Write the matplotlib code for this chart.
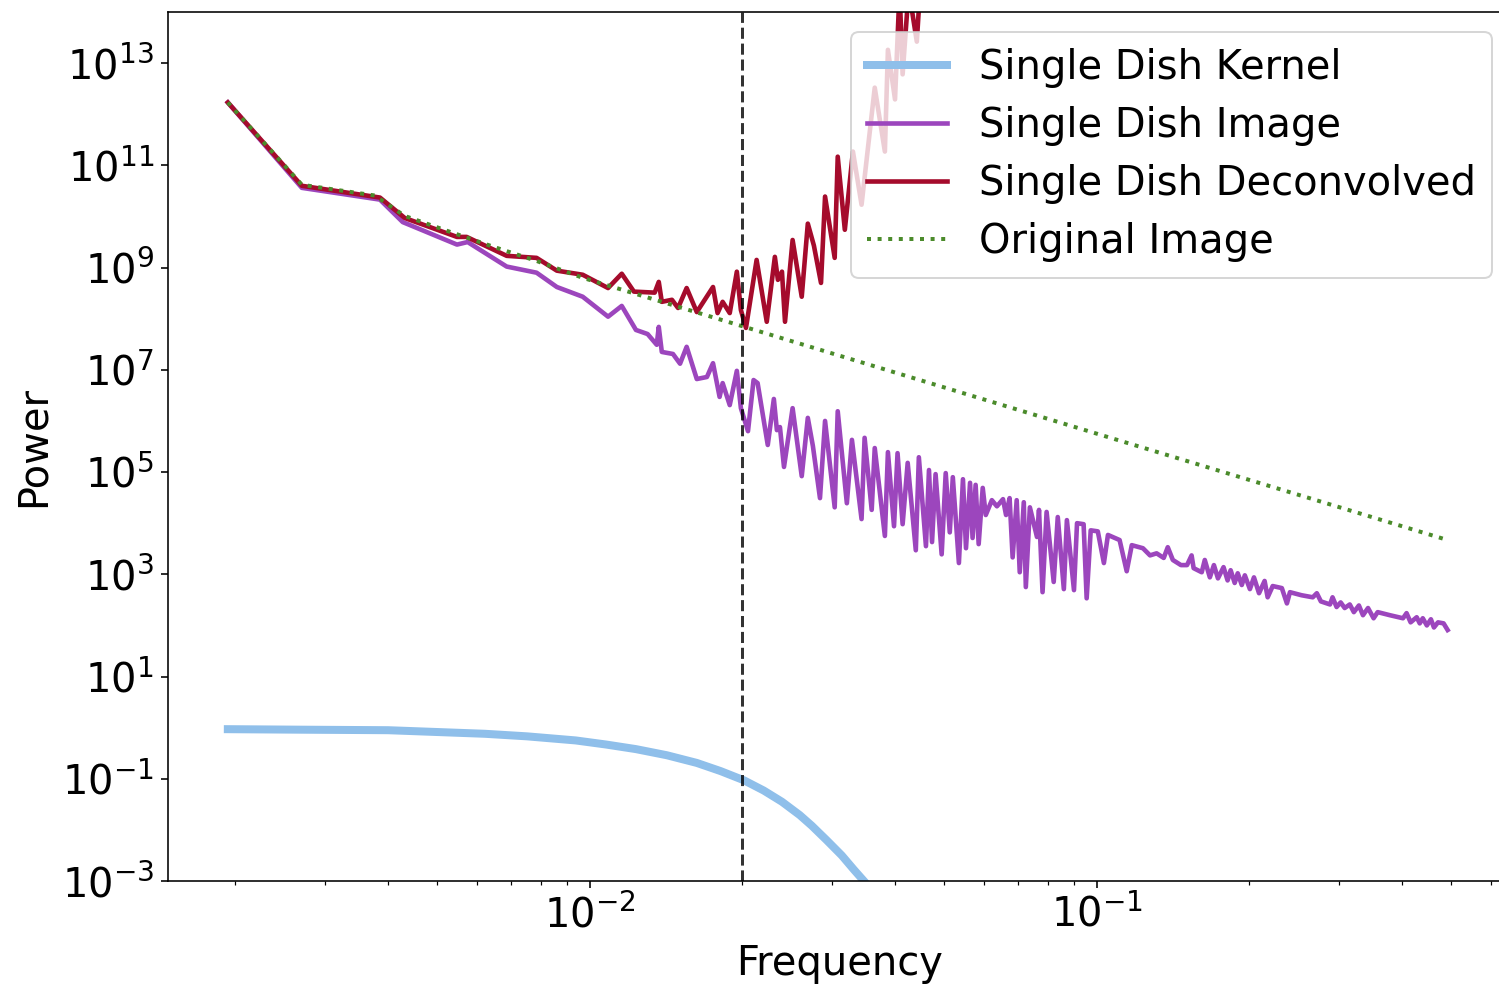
import numpy as np
from matplotlib import pyplot as plt
from matplotlib import ticker

# radially averaged power spectra, values stored as log10(frequency) / log10(power)
kernel_logf = [-2.714, -2.568, -2.398, -2.207, -2.124, -2.028, -1.968, -1.909, -1.848,
               -1.789, -1.742, -1.696, -1.657, -1.621, -1.586, -1.562, -1.533, -1.503,
               -1.479, -1.454, -1.389]
kernel_logp = [-0.03, -0.04, -0.05, -0.12, -0.17, -0.25, -0.33, -0.42, -0.54,
               -0.69, -0.85, -1.03, -1.23, -1.45, -1.71, -1.92, -2.20, -2.50,
               -2.78, -3.06, -3.85]

image_logf = [
    -2.714, -2.568, -2.414, -2.369, -2.262, -2.241, -2.164, -2.105, -2.065, -2.014,
    -1.964, -1.937, -1.909, -1.886, -1.868, -1.864, -1.858, -1.836, -1.822, -1.809,
    -1.789, -1.769, -1.757, -1.744, -1.738, -1.724, -1.710, -1.702, -1.688, -1.677,
    -1.669, -1.649, -1.637, -1.631, -1.625, -1.617, -1.600, -1.582, -1.570, -1.560,
    -1.546, -1.536, -1.517, -1.511, -1.493, -1.483, -1.464, -1.458, -1.444, -1.438,
    -1.418, -1.412, -1.400, -1.393, -1.383, -1.373, -1.357, -1.351, -1.337, -1.331,
    -1.325, -1.318, -1.306, -1.298, -1.290, -1.284, -1.272, -1.264, -1.258, -1.250,
    -1.245, -1.239, -1.233, -1.225, -1.219, -1.207, -1.197, -1.185, -1.179, -1.172,
    -1.166, -1.158, -1.152, -1.144, -1.140, -1.132, -1.118, -1.114, -1.107, -1.099,
    -1.085, -1.077, -1.065, -1.059, -1.045, -1.039, -1.026, -1.020, -1.012, -0.998,
    -0.986, -0.978, -0.955, -0.941, -0.931, -0.909, -0.895, -0.882, -0.868, -0.860,
    -0.850, -0.834, -0.822, -0.813, -0.809, -0.793, -0.787, -0.777, -0.769, -0.761,
    -0.750, -0.742, -0.736, -0.728, -0.722, -0.714, -0.708, -0.698, -0.690, -0.680,
    -0.669, -0.663, -0.653, -0.635, -0.625, -0.619, -0.596, -0.574, -0.566, -0.558,
    -0.540, -0.535, -0.527, -0.519, -0.511, -0.501, -0.493, -0.483, -0.475, -0.465,
    -0.454, -0.446, -0.422, -0.396, -0.389, -0.381, -0.369, -0.363, -0.357, -0.349,
    -0.341, -0.335, -0.327, -0.316, -0.308]
image_logp = [
    12.23, 10.56, 10.33, 9.89, 9.45, 9.50, 9.02, 8.90, 8.62, 8.43,
    8.04, 8.25, 7.78, 7.70, 7.49, 7.84, 7.35, 7.31, 7.12, 7.45,
    6.82, 6.86, 7.13, 6.47, 6.74, 6.31, 6.98, 6.25, 5.80, 6.80,
    6.74, 5.53, 6.43, 5.82, 5.88, 5.10, 6.25, 4.92, 6.06, 5.51,
    4.49, 6.00, 4.31, 6.19, 4.39, 5.63, 4.08, 5.67, 4.26, 5.47,
    3.75, 5.39, 3.94, 5.37, 3.98, 5.18, 3.47, 5.29, 3.55, 5.04,
    3.63, 4.96, 3.39, 4.98, 3.82, 4.90, 3.22, 4.86, 3.51, 4.79,
    3.71, 4.75, 3.59, 4.69, 4.16, 4.45, 4.33, 4.47, 4.16, 4.49,
    3.33, 4.45, 3.04, 4.41, 2.75, 4.31, 3.73, 4.26, 2.65, 4.22,
    2.85, 4.12, 2.71, 4.06, 2.69, 4.00, 3.98, 2.53, 3.86, 3.84,
    3.22, 3.77, 3.67, 3.06, 3.57, 3.51, 3.37, 3.41, 3.32, 3.53,
    3.28, 3.18, 3.18, 3.37, 3.12, 3.04, 3.28, 2.94, 3.18, 2.92,
    3.14, 2.88, 3.08, 2.83, 3.02, 2.79, 2.98, 2.71, 2.94, 2.63,
    2.87, 2.55, 2.77, 2.73, 2.43, 2.65, 2.59, 2.55, 2.63, 2.47,
    2.41, 2.55, 2.36, 2.45, 2.34, 2.41, 2.26, 2.39, 2.20, 2.34,
    2.14, 2.26, 2.20, 2.14, 2.24, 2.06, 2.16, 2.04, 2.14, 2.00,
    2.12, 1.96, 2.06, 2.04, 1.91]

deconv_logf = [
    -2.714, -2.568, -2.414, -2.365, -2.262, -2.243, -2.164, -2.105, -2.065, -2.014,
    -1.964, -1.937, -1.913, -1.872, -1.864, -1.858, -1.838, -1.826, -1.809, -1.789,
    -1.757, -1.748, -1.738, -1.724, -1.710, -1.702, -1.692, -1.671, -1.651, -1.635,
    -1.629, -1.621, -1.615, -1.600, -1.582, -1.570, -1.558, -1.544, -1.536, -1.517,
    -1.511, -1.497, -1.481, -1.464, -1.438, -1.418, -1.412, -1.398, -1.389, -1.383,
    -1.371, -1.355, -1.345, -1.329]
deconv_logp = [
    12.23, 10.60, 10.37, 9.97, 9.60, 9.60, 9.23, 9.19, 8.94, 8.86,
    8.60, 8.88, 8.53, 8.51, 8.72, 8.33, 8.37, 8.21, 8.60, 8.13,
    8.62, 8.11, 8.33, 8.11, 8.92, 8.17, 7.82, 9.15, 7.94, 9.21,
    8.76, 8.92, 7.94, 9.54, 8.43, 9.86, 9.43, 8.70, 10.39, 9.19,
    11.17, 9.74, 11.27, 10.23, 12.52, 11.27, 13.26, 12.29, 14.44, 12.78,
    14.44, 13.42, 15.03, 16.20]

orig_logf = [-2.714, -2.568, -2.424, -2.365, -2.276, -2.191, -2.105, -2.014, -0.308]
orig_logp = [12.23, 10.62, 10.41, 10.01, 9.70, 9.41, 9.13, 8.80, 3.67]

beam_cut = 0.02

plt.rcParams['font.size'] = 20

fig = plt.figure(figsize=(1499 / 144, 986 / 144), dpi=144)
ax = fig.add_axes([0.11208, 0.10649, 0.89660, 0.88134])

p = lambda v: 10.0 ** np.array(v)

ax.loglog(p(kernel_logf), p(kernel_logp), color='#8fbfea', lw=4, label='Single Dish Kernel')
ax.loglog(p(image_logf), p(image_logp), color='#9c46bd', lw=2.3, label='Single Dish Image')
ax.loglog(p(deconv_logf), p(deconv_logp), color='#a50b2c', lw=2.3, label='Single Dish Deconvolved')
ax.loglog(p(orig_logf), p(orig_logp), color='#4b8b2b', lw=2, ls=':', label='Original Image')
ax.axvline(beam_cut, color='k', ls='--', lw=1.5, alpha=0.8)

ax.set_xlim(10 ** -2.832, 10 ** -0.181)
ax.set_ylim(1e-3, 1e14)
ax.set_yticks([10.0 ** k for k in range(-3, 14, 2)])
ax.yaxis.set_minor_locator(ticker.NullLocator())

ax.set_xlabel('Frequency')
ax.set_ylabel('Power')
ax.legend(loc='upper right', labelspacing=0.45)

fig.savefig('out.png', dpi=144)
